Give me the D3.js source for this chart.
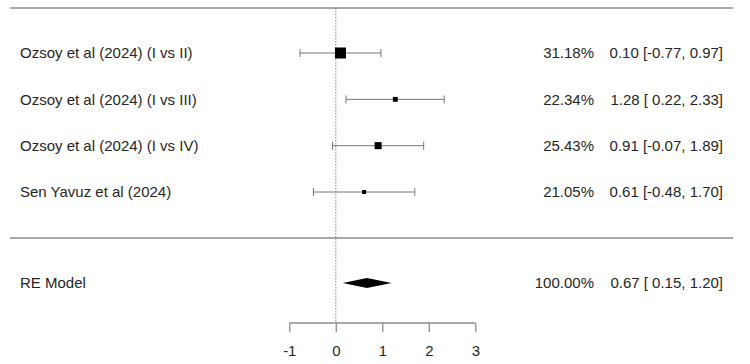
<!DOCTYPE html>
<html>
<head>
<meta charset="utf-8">
<script src="https://cdn.jsdelivr.net/npm/d3@7"></script>
<style>
  body { margin: 0; background: #fff; }
  svg text { font-family: "Liberation Sans", Arial, sans-serif; fill: #262626; }
</style>
</head>
<body>
<div id="chart"></div>
<script>
"use strict";

// study rows
const studies = ["Ozsoy et al (2024) (I vs II)", "Ozsoy et al (2024) (I vs III)",
  "Ozsoy et al (2024) (I vs IV)", "Sen Yavuz et al (2024)"];
const estimates = [0.10, 1.28, 0.91, 0.61];
const lowers = [-0.77, 0.22, -0.07, -0.48];
const uppers = [0.97, 2.33, 1.89, 1.70];
const weights = [31.18, 22.34, 25.43, 21.05];

// pooled estimate
const pooledLabel = "RE Model";
const pooled = { est: 0.67, lo: 0.15, hi: 1.20, weight: 100.00 };

const xTicks = [-1, 0, 1, 2, 3];

let ForestPlot = function (id) {
  let self = {
    width: 750,
    height: 364,
    svg: null,
    lineColor: "#8c8c8c",
    fontSize: "15px"
  };

  // plain hyphen for negatives, like R output
  let fmt = v => d3.format(".2f")(v).replace("\u2212", "-");
  let ciText = (e, l, h) => {
    let pad = v => (v < 0 ? fmt(v) : " " + fmt(v));
    return `${fmt(e)} [${pad(l)}, ${fmt(h)}]`;
  };

  function addText(x, y, str, anchor) {
    return self.svg.append("text").attr("x", x).attr("y", y).attr("dy", "0.35em")
      .attr("text-anchor", anchor || "start").style("font-size", self.fontSize)
      .attr("xml:space", "preserve").style("white-space", "pre")
      .text(str);
  }

  function init() {
    self.svg = d3.select(id).append("svg")
      .attr("width", self.width).attr("height", self.height);
  }

  function draw() {
    let svg = self.svg;
    let xScale = d3.scaleLinear().domain([-1, 3]).range([289.3, 475.3]);
    // row positions: studies top-down, then a gap and the pooled row
    let yScale = d3.scaleLinear().domain([0, 3]).range([53, 192]);
    let yPooled = 283;
    let sizeScale = d3.scaleLinear().domain(d3.extent(weights)).range([4, 11]);

    // top and separator lines
    svg.append("line").attr("x1", 10).attr("x2", 733).attr("y1", 8).attr("y2", 8)
      .style("stroke", self.lineColor).style("stroke-width", 1.3);
    svg.append("line").attr("x1", 10).attr("x2", 733).attr("y1", 238).attr("y2", 238)
      .style("stroke", self.lineColor).style("stroke-width", 1.3);

    // reference line at zero
    svg.append("line").attr("x1", xScale(0)).attr("x2", xScale(0)).attr("y1", 8).attr("y2", 323)
      .style("stroke", "#666").style("stroke-width", 0.8).style("stroke-dasharray", "1.5,1.5");

    // study rows
    studies.forEach((name, i) => {
      let y = yScale(i);
      let g = svg.append("g");
      g.append("line").attr("x1", xScale(lowers[i])).attr("x2", xScale(uppers[i]))
        .attr("y1", y).attr("y2", y).style("stroke", "#777").style("stroke-width", 1);
      [lowers[i], uppers[i]].forEach(v => {
        g.append("line").attr("x1", xScale(v)).attr("x2", xScale(v))
          .attr("y1", y - 4).attr("y2", y + 4).style("stroke", "#777").style("stroke-width", 1);
      });
      let s = sizeScale(weights[i]);
      g.append("rect").attr("x", xScale(estimates[i]) - s / 2).attr("y", y - s / 2)
        .attr("width", s).attr("height", s).style("fill", "#000");

      addText(20, y, name);
      addText(594, y, fmt(weights[i]) + "%", "end");
      addText(723, y, ciText(estimates[i], lowers[i], uppers[i]), "end");
    });

    // pooled diamond
    let d = [[xScale(pooled.lo), yPooled], [xScale(pooled.est), yPooled - 5],
      [xScale(pooled.hi), yPooled], [xScale(pooled.est), yPooled + 5]];
    svg.append("polygon").attr("points", d.map(p => p.join(",")).join(" "))
      .style("fill", "#000");
    addText(20, yPooled, pooledLabel);
    addText(594, yPooled, fmt(pooled.weight) + "%", "end");
    addText(723, yPooled, ciText(pooled.est, pooled.lo, pooled.hi), "end");

    // x axis: line on top, ticks hanging down
    let xAxis = d3.axisBottom(xScale).tickValues(xTicks).tickSize(9).tickPadding(13)
      .tickFormat(v => String(v));
    let ax = svg.append("g").attr("transform", "translate(0,323)").call(xAxis);
    ax.select(".domain").attr("d", `M${xScale(-1)},0H${xScale(3)}`)
      .style("stroke", self.lineColor).style("stroke-width", 1.3);
    ax.selectAll(".tick line").style("stroke", self.lineColor).style("stroke-width", 1.3);
    ax.selectAll(".tick text").style("font-size", self.fontSize)
      .style("font-family", "Liberation Sans, Arial, sans-serif").style("fill", "#262626");
  }

  return { init, draw };
};

let plot = ForestPlot("#chart");
plot.init();
plot.draw();
</script>
</body>
</html>
